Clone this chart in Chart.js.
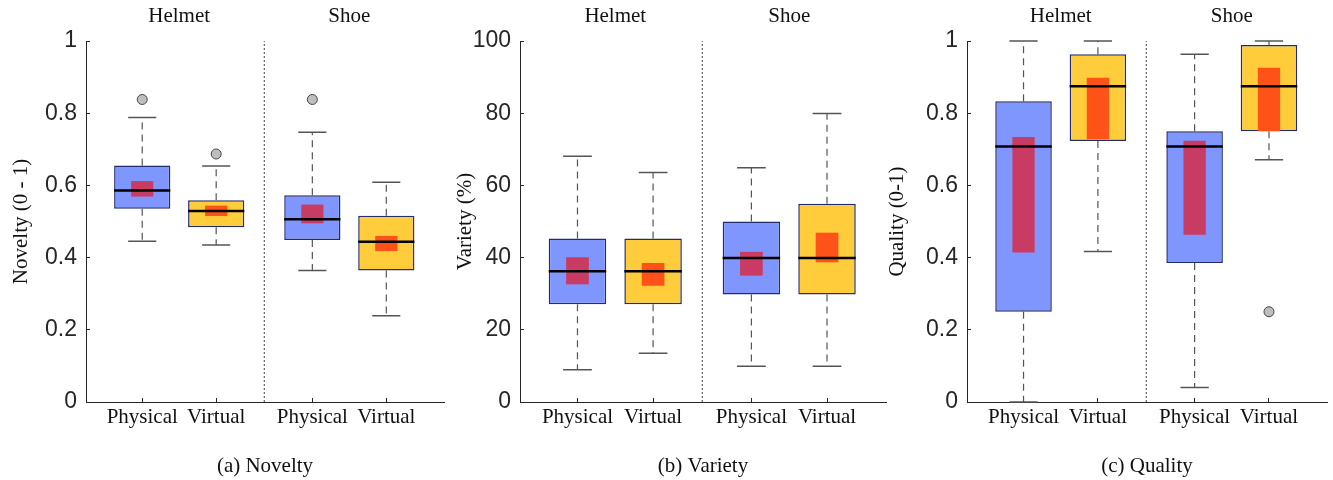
<!DOCTYPE html>
<html>
<head>
  <meta charset="utf-8">
  <script src="https://cdn.jsdelivr.net/npm/chart.js@4"></script>
  <style>
    html, body { margin: 0; padding: 0; background: #fff; width: 1333px; height: 480px; overflow: hidden; }
    .panel { position: absolute; top: 0; height: 480px; }
  </style>
</head>
<body>
  <div class="panel" style="left:0; width:450px;"><canvas id="novelty"></canvas></div>
  <div class="panel" style="left:440px; width:450px;"><canvas id="variety"></canvas></div>
  <div class="panel" style="left:880px; width:453px;"><canvas id="quality"></canvas></div>
  <script>
    // categories / groups
    const cats = ['Physical', 'Virtual', 'Physical', 'Virtual'];
    const groups = ['Helmet', 'Shoe'];

    // (a) Novelty
    const noveltyLo   = [0.445, 0.435, 0.364, 0.239];
    const noveltyQ1   = [0.535, 0.484, 0.449, 0.364];
    const noveltyMed  = [0.586, 0.529, 0.506, 0.444];
    const noveltyQ3   = [0.655, 0.559, 0.573, 0.516];
    const noveltyHi   = [0.788, 0.654, 0.747, 0.609];
    const noveltyCiLo = [0.569, 0.515, 0.495, 0.418];
    const noveltyCiHi = [0.612, 0.544, 0.547, 0.460];
    const noveltyOut  = [[0.838], [0.687], [0.838], []];

    // (b) Variety
    const varietyLo   = [8.9, 13.5, 9.9, 9.9];
    const varietyQ1   = [27.1, 27.1, 29.8, 29.8];
    const varietyMed  = [36.2, 36.2, 39.9, 39.9];
    const varietyQ3   = [45.3, 45.3, 50.0, 54.9];
    const varietyHi   = [68.1, 63.6, 64.9, 79.9];
    const varietyCiLo = [32.6, 32.2, 35.0, 38.7];
    const varietyCiHi = [40.1, 38.5, 41.6, 46.9];
    const varietyOut  = [[], [], [], []];

    // (c) Quality
    const qualityLo   = [0.0, 0.417, 0.040, 0.671];
    const qualityQ1   = [0.250, 0.723, 0.385, 0.750];
    const qualityMed  = [0.708, 0.875, 0.708, 0.875];
    const qualityQ3   = [0.833, 0.963, 0.750, 0.989];
    const qualityHi   = [1.0, 1.0, 0.963, 1.0];
    const qualityCiLo = [0.414, 0.728, 0.463, 0.750];
    const qualityCiHi = [0.734, 0.898, 0.724, 0.926];
    const qualityOut  = [[], [], [], [0.25]];

    // layout along x (axis units)
    const xPos = [1, 2, 3.3, 4.3];
    const xMin = 0.24, xMax = 5.08, divider = 2.65;
    const capHalf = 0.19, medHalf = 0.38;

    const boxFill = { Physical: '#8096ff', Virtual: '#ffcd3c' };
    const ciFill = { Physical: '#c83c64', Virtual: '#ff5218' };
    const serif = 'Liberation Serif';
    const sans = 'Liberation Sans';

    function makePanel(id, d) {
      const gap = { x: 0, y: null };
      const whiskers = [], caps = [], meds = [], outs = [];
      xPos.forEach((p, i) => {
        whiskers.push({ x: p, y: d.q3[i] }, { x: p, y: d.hi[i] }, { ...gap, x: p });
        whiskers.push({ x: p, y: d.q1[i] }, { x: p, y: d.lo[i] }, { ...gap, x: p });
        caps.push({ x: p - capHalf, y: d.hi[i] }, { x: p + capHalf, y: d.hi[i] }, { ...gap, x: p });
        caps.push({ x: p - capHalf, y: d.lo[i] }, { x: p + capHalf, y: d.lo[i] }, { ...gap, x: p });
        meds.push({ x: p - medHalf, y: d.med[i] }, { x: p + medHalf, y: d.med[i] }, { ...gap, x: p });
        d.out[i].forEach(v => outs.push({ x: p, y: v }));
      });

      new Chart(document.getElementById(id), {
        type: 'bar',
        data: {
          datasets: [
            {
              type: 'line', order: 6, data: [{ x: divider, y: d.yMin }, { x: divider, y: d.yMax }],
              borderColor: '#444', borderWidth: 1, borderDash: [2, 2], pointRadius: 0
            },
            {
              type: 'line', order: 5, data: whiskers, spanGaps: false,
              borderColor: '#555', borderWidth: 1.2, borderDash: [7, 5], pointRadius: 0
            },
            {
              type: 'line', order: 5, data: caps, spanGaps: false, clip: false,
              borderColor: '#555', borderWidth: 1.5, pointRadius: 0
            },
            {
              order: 4, grouped: false, barPercentage: 0.76, categoryPercentage: 1,
              data: xPos.map((p, i) => ({ x: p, y: [d.q1[i], d.q3[i]] })),
              backgroundColor: cats.map(c => boxFill[c]),
              borderColor: '#232c70', borderWidth: 1.5, borderSkipped: false
            },
            {
              order: 3, grouped: false, barPercentage: 0.3, categoryPercentage: 1,
              data: xPos.map((p, i) => ({ x: p, y: [d.ciLo[i], d.ciHi[i]] })),
              backgroundColor: cats.map(c => ciFill[c]), borderWidth: 0
            },
            {
              type: 'line', order: 2, data: meds, spanGaps: false,
              borderColor: '#000', borderWidth: 2.5, pointRadius: 0
            },
            {
              type: 'line', order: 1, data: outs, showLine: false, clip: false,
              pointRadius: 5, pointBackgroundColor: '#bebebe', pointBorderColor: '#444', pointBorderWidth: 1
            }
          ]
        },
        options: {
          responsive: true,
          maintainAspectRatio: false,
          animation: false,
          layout: { padding: { left: 0, right: d.padRight, top: 0, bottom: 0 } },
          plugins: { legend: { display: false }, tooltip: { enabled: false } },
          scales: {
            x: {
              type: 'linear', position: 'bottom', min: xMin, max: xMax, offset: false,
              afterBuildTicks: s => { s.ticks = xPos.map(v => ({ value: v })); },
              afterFit: s => { s.height = 78; },
              ticks: {
                callback: (v, i) => cats[i], padding: 7, color: '#111',
                font: { family: serif, size: 21 }, maxRotation: 0, autoSkip: false
              },
              grid: { drawOnChartArea: false, offset: false, tickLength: -4, color: '#262626' },
              border: { color: '#262626', width: 1 },
              title: {
                display: true, text: d.caption, color: '#111',
                font: { family: serif, size: 21 }, padding: { top: 0, bottom: 1 }
              }
            },
            x2: {
              type: 'linear', position: 'top', min: xMin, max: xMax, offset: false,
              afterBuildTicks: s => { s.ticks = [(xPos[0] + xPos[1]) / 2, (xPos[2] + xPos[3]) / 2].map(v => ({ value: v })); },
              afterFit: s => { s.height = 41; },
              ticks: {
                callback: (v, i) => groups[i], padding: 12, color: '#111',
                font: { family: serif, size: 21 }, maxRotation: 0, autoSkip: false
              },
              grid: { display: false, drawTicks: false, offset: false },
              border: { display: false }
            },
            y: {
              position: 'left', min: d.yMin, max: d.yMax,
              afterFit: s => { s.width = d.yWidth; },
              ticks: {
                stepSize: d.step, padding: 13, color: '#262626',
                font: { family: sans, size: 23 },
                callback: v => String(Number(v.toFixed(1)))
              },
              grid: { drawOnChartArea: false, tickLength: -4, color: '#262626' },
              border: { color: '#262626', width: 1 },
              title: {
                display: true, text: d.yTitle, color: '#111',
                font: { family: serif, size: 21 }, padding: { top: d.titlePad, bottom: 0 }
              }
            }
          }
        }
      });
    }

    makePanel('novelty', {
      lo: noveltyLo, q1: noveltyQ1, med: noveltyMed, q3: noveltyQ3, hi: noveltyHi,
      ciLo: noveltyCiLo, ciHi: noveltyCiHi, out: noveltyOut,
      yMin: 0, yMax: 1, step: 0.2, yTitle: 'Novelty (0 - 1)', caption: '(a) Novelty',
      yWidth: 86, padRight: 3, titlePad: 9
    });
    makePanel('variety', {
      lo: varietyLo, q1: varietyQ1, med: varietyMed, q3: varietyQ3, hi: varietyHi,
      ciLo: varietyCiLo, ciHi: varietyCiHi, out: varietyOut,
      yMin: 0, yMax: 100, step: 20, yTitle: 'Variety (%)', caption: '(b) Variety',
      yWidth: 80, padRight: 4, titlePad: 13
    });
    makePanel('quality', {
      lo: qualityLo, q1: qualityQ1, med: qualityMed, q3: qualityQ3, hi: qualityHi,
      ciLo: qualityCiLo, ciHi: qualityCiHi, out: qualityOut,
      yMin: 0, yMax: 1, step: 0.2, yTitle: 'Quality (0-1)', caption: '(c) Quality',
      yWidth: 87, padRight: 2, titlePad: 5
    });
  </script>
</body>
</html>
